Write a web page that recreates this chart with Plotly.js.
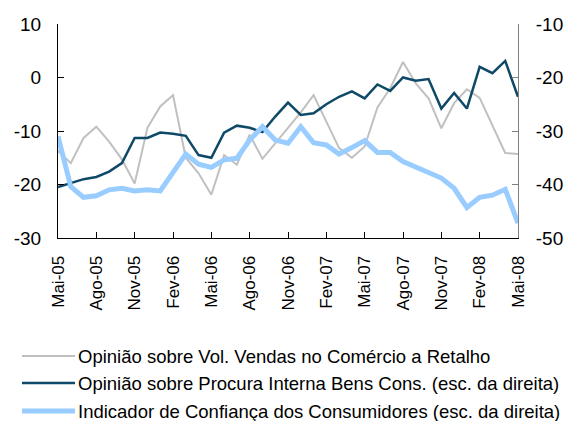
<!DOCTYPE html>
<html>
<head>
<meta charset="utf-8">
<script src="https://cdn.plot.ly/plotly-3.0.1.min.js"></script>
<style>html,body{margin:0;padding:0;background:#fff}#chart{width:566px;height:421px}</style>
</head>
<body>
<div id="chart"></div>
<script>
const months = ["Mai-05","Jun-05","Jul-05","Ago-05","Set-05","Out-05","Nov-05","Dez-05","Jan-06","Fev-06","Mar-06","Abr-06",
  "Mai-06","Jun-06","Jul-06","Ago-06","Set-06","Out-06","Nov-06","Dez-06","Jan-07","Fev-07","Mar-07","Abr-07",
  "Mai-07","Jun-07","Jul-07","Ago-07","Set-07","Out-07","Nov-07","Dez-07","Jan-08","Fev-08","Mar-08","Abr-08","Mai-08"];
const tickLabels = ["Mai-05","Ago-05","Nov-05","Fev-06","Mai-06","Ago-06","Nov-06","Fev-07","Mai-07","Ago-07","Nov-07","Fev-08","Mai-08"];
const leftTicks = [-30, -20, -10, 0, 10];
const leftTickText = ["-30", "-20", "-10", "0", "10"];
const rightTicks = [-50, -40, -30, -20, -10];
const rightTickText = ["-50", "-40", "-30", "-20", "-10"];

const vendasRetalho = [-13.7,-16.0,-11.3,-9.2,-12.0,-15.3,-19.8,-9.4,-5.4,-3.3,-15.0,-17.9,-21.9,-14.5,-16.3,-10.7,-15.2,-12.3,-9.5,-6.5,-3.3,-8.2,-13.2,-15.0,-12.9,-5.6,-2.0,2.9,-1.1,-3.9,-9.5,-4.8,-2.2,-3.8,-8.9,-14.1,-14.3];
const procuraInterna = [-40.5,-39.7,-39.0,-38.6,-37.6,-36.0,-31.3,-31.3,-30.3,-30.5,-30.9,-34.5,-35.0,-30.3,-29.0,-29.4,-30.2,-27.3,-24.7,-27.0,-26.7,-25.0,-23.6,-22.6,-23.9,-21.3,-22.5,-20.0,-20.6,-20.3,-25.8,-22.9,-25.8,-18.0,-19.2,-16.9,-23.6];
const confianca = [-31.0,-40.4,-42.4,-42.1,-41.0,-40.7,-41.2,-41.0,-41.2,-37.7,-34.3,-36.2,-36.8,-35.4,-35.1,-31.7,-29.2,-31.7,-32.3,-29.2,-32.2,-32.6,-34.3,-33.1,-31.8,-34.0,-34.0,-35.7,-36.8,-37.7,-38.8,-40.7,-44.3,-42.4,-42.0,-40.9,-47.2];

const names = ["Opinião sobre Vol. Vendas no Comércio a Retalho",
  "Opinião sobre Procura Interna Bens Cons. (esc. da direita)",
  "Indicador de Confiança dos Consumidores (esc. da direita)"];
const colors = ["#c0c0c0", "#0e4a68", "#99ccff"];
const widths = [2, 2.5, 5];

const FONT = "Liberation Sans, Arial, sans-serif";

const traces = [
  {x: months, y: vendasRetalho, name: names[0], type: "scatter", mode: "lines",
   line: {color: colors[0], width: widths[0]}, yaxis: "y"},
  {x: months, y: procuraInterna, name: names[1], type: "scatter", mode: "lines",
   line: {color: colors[1], width: widths[1]}, yaxis: "y2"},
  {x: months, y: confianca, name: names[2], type: "scatter", mode: "lines",
   line: {color: colors[2], width: widths[2]}, yaxis: "y2"}
];

// manual legend (paper coordinates; plot area 58..518 x 24..238 px)
const L = 58, W = 460, T = 24, H = 214;
const px = v => (v - L) / W;
const py = v => (T + H - v) / H;
const rowsY = [356, 383, 411];
const shapes = [], annotations = [];
names.forEach((n, i) => {
  shapes.push({type: "line", xref: "paper", yref: "paper", x0: px(22), x1: px(75), y0: py(rowsY[i]), y1: py(rowsY[i]),
    line: {color: colors[i], width: widths[i]}});
  annotations.push({xref: "paper", yref: "paper", x: px(76), y: py(rowsY[i]), xanchor: "left", yanchor: "middle",
    text: n, showarrow: false, font: {family: FONT, size: 18.5, color: "#000"}});
});

const layout = {
  width: 566, height: 421,
  margin: {l: 58, r: 48, t: 24, b: 183},
  paper_bgcolor: "#fff", plot_bgcolor: "#fff",
  font: {family: FONT, size: 16, color: "#000"},
  showlegend: false,
  shapes: shapes, annotations: annotations,
  xaxis: {type: "category", range: [0, 36], tickmode: "array", tickvals: tickLabels, ticktext: tickLabels,
    tickangle: -90, ticks: "inside", ticklen: 6, tickcolor: "#000", showline: true, linecolor: "#000",
    linewidth: 1, showgrid: false, zeroline: false, tickfont: {family: FONT, size: 17}, ticklabelstandoff: 10},
  yaxis: {range: [-30, 10], tickmode: "array", tickvals: leftTicks, ticktext: leftTickText, ticks: "inside", ticklen: 6,
    tickcolor: "#000", showline: true, linecolor: "#000", linewidth: 1, showgrid: false, zeroline: false,
    tickfont: {family: FONT, size: 19}, ticklabelstandoff: 12},
  yaxis2: {range: [-50, -10], tickmode: "array", tickvals: rightTicks, ticktext: rightTickText, overlaying: "y", side: "right",
    ticks: "inside", ticklen: 6, tickcolor: "#808080", showline: true, linecolor: "#808080", linewidth: 1,
    showgrid: false, zeroline: false, tickfont: {family: FONT, size: 19}, ticklabelstandoff: 13}
};

Plotly.newPlot("chart", traces, layout, {displayModeBar: false, staticPlot: true});
</script>
</body>
</html>
